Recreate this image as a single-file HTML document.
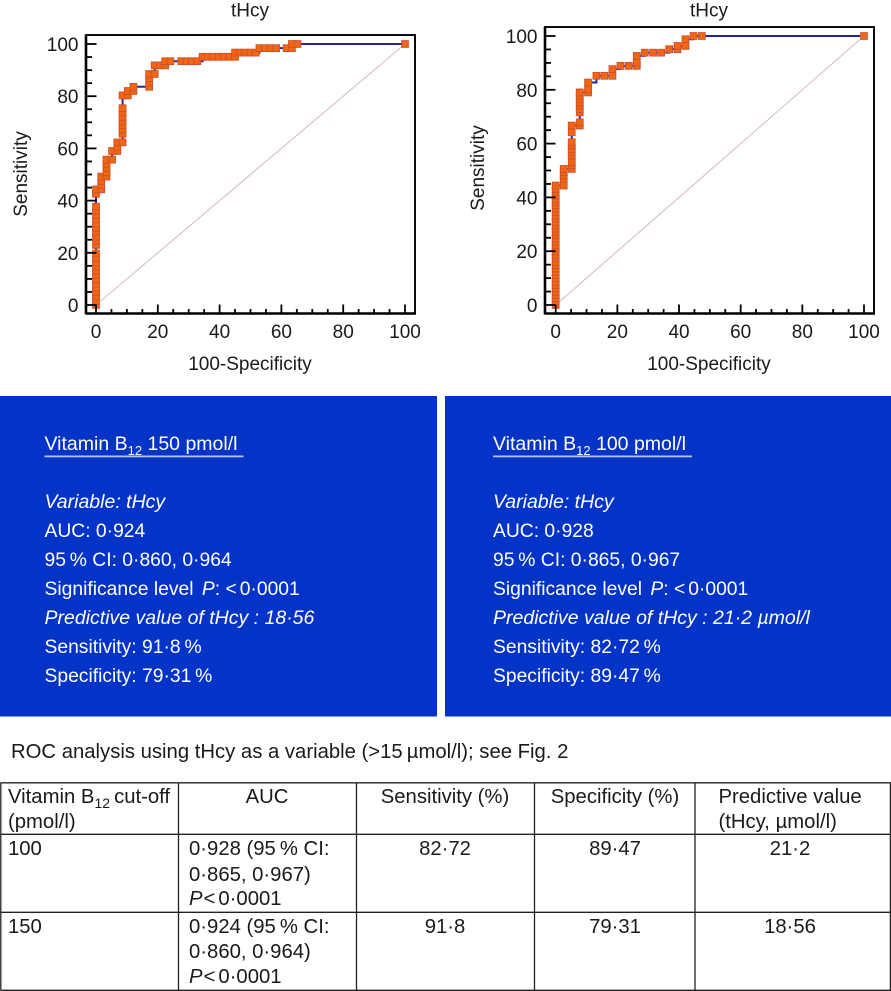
<!DOCTYPE html>
<html lang="en">
<head>
<meta charset="utf-8">
<title>ROC analysis of tHcy</title>
<style>
html,body{margin:0;padding:0;background:#fff;width:891px;height:991px;overflow:hidden}
svg{display:block;position:absolute;left:0;top:0}
text{font-family:"Liberation Sans",sans-serif;font-size:19px;fill:#1a1a1a}
.p text{fill:#fff;font-size:19.3px}
.p text.i{font-size:19.5px}
.p text.h{font-size:19.5px}
.i{font-style:italic}
.p .sub,.sub{font-size:13px}
.tb text,text.cap{font-size:20.3px}
.tb .sub{font-size:14px}
.tb line{stroke:#222;stroke-width:1.3}
</style>
</head>
<body>
<svg id="page" width="891" height="991" viewBox="0 0 891 991" xmlns="http://www.w3.org/2000/svg">
  <g id="chart-left"></g>
  <g id="chart-right"></g>

  <g class="p">
    <rect x="0" y="396" width="437" height="320.5" fill="#0433c8"/>
    <text class="h" x="44.5" y="450">Vitamin B<tspan class="sub" dy="5">12</tspan><tspan dy="-5"> 150 pmol/l</tspan></text>
    <rect x="44.5" y="455.5" width="199" height="1.8" fill="#b4c3f2"/>
    <text class="i" x="44.5" y="508">Variable: tHcy</text>
    <text x="44.5" y="537">AUC: 0·924</text>
    <text x="44.5" y="566">95&#8201;% CI: 0·860, 0·964</text>
    <text x="44.5" y="595">Significance level <tspan class="i" dx="3">P</tspan>: <tspan dx="0">&lt;</tspan><tspan dx="3">0·0001</tspan></text>
    <text class="i" x="44.5" y="624">Predictive value of tHcy : 18·56</text>
    <text x="44.5" y="653">Sensitivity: 91·8&#8201;%</text>
    <text x="44.5" y="682">Specificity: 79·31&#8201;%</text>
  </g>

  <g class="p">
    <rect x="445" y="396" width="446" height="320.5" fill="#0433c8"/>
    <text class="h" x="493" y="450">Vitamin B<tspan class="sub" dy="5">12</tspan><tspan dy="-5"> 100 pmol/l</tspan></text>
    <rect x="493" y="455.5" width="199" height="1.8" fill="#b4c3f2"/>
    <text class="i" x="493" y="508">Variable: tHcy</text>
    <text x="493" y="537">AUC: 0·928</text>
    <text x="493" y="566">95&#8201;% CI: 0·865, 0·967</text>
    <text x="493" y="595">Significance level <tspan class="i" dx="3">P</tspan>: <tspan dx="0">&lt;</tspan><tspan dx="3">0·0001</tspan></text>
    <text class="i" x="493" y="624">Predictive value of tHcy : 21·2 µmol/l</text>
    <text x="493" y="653">Sensitivity: 82·72&#8201;%</text>
    <text x="493" y="682">Specificity: 89·47&#8201;%</text>
  </g>

  <text class="cap" x="11" y="758">ROC analysis using tHcy as a variable (&gt;15&#8201;µmol/l); see Fig. 2</text>

  <g class="tb">
    <line x1="0.5" y1="782.8" x2="891" y2="782.8"/>
    <line x1="0.5" y1="834.3" x2="891" y2="834.3"/>
    <line x1="0.5" y1="912.3" x2="891" y2="912.3"/>
    <line x1="0.5" y1="990.3" x2="891" y2="990.3"/>
    <line x1="0.8" y1="782.8" x2="0.8" y2="990.3"/>
    <line x1="178.5" y1="782.8" x2="178.5" y2="990.3"/>
    <line x1="356.5" y1="782.8" x2="356.5" y2="990.3"/>
    <line x1="534.5" y1="782.8" x2="534.5" y2="990.3"/>
    <line x1="695" y1="782.8" x2="695" y2="990.3"/>
    <line x1="890.4" y1="782.8" x2="890.4" y2="990.3"/>

    <text x="8" y="803">Vitamin B<tspan class="sub" dy="5">12</tspan><tspan dy="-5">&#8201;cut-off</tspan></text>
    <text x="8" y="828">(pmol/l)</text>
    <text x="267" y="803" text-anchor="middle">AUC</text>
    <text x="445" y="803" text-anchor="middle">Sensitivity (%)</text>
    <text x="615" y="803" text-anchor="middle">Specificity (%)</text>
    <text x="718.5" y="803">Predictive value</text>
    <text x="718.5" y="828">(tHcy, µmol/l)</text>

    <text x="8" y="855">100</text>
    <text x="189" y="855">0·928 (95&#8201;% CI:</text>
    <text x="189" y="881">0·865, 0·967)</text>
    <text x="189" y="905"><tspan class="i">P</tspan><tspan dx="1">&lt;</tspan><tspan dx="3">0·0001</tspan></text>
    <text x="445" y="855" text-anchor="middle">82·72</text>
    <text x="615" y="855" text-anchor="middle">89·47</text>
    <text x="790" y="855" text-anchor="middle">21·2</text>

    <text x="8" y="933">150</text>
    <text x="189" y="933">0·924 (95&#8201;% CI:</text>
    <text x="189" y="958">0·860, 0·964)</text>
    <text x="189" y="983"><tspan class="i">P</tspan><tspan dx="1">&lt;</tspan><tspan dx="3">0·0001</tspan></text>
    <text x="445" y="933" text-anchor="middle">91·8</text>
    <text x="615" y="933" text-anchor="middle">79·31</text>
    <text x="790" y="933" text-anchor="middle">18·56</text>
  </g>
</svg>

<script>
var majorTicks = [0, 20, 40, 60, 80, 100];
var minorTicks = [5, 10, 15, 25, 30, 35, 45, 50, 55, 65, 70, 75, 85, 90, 95];
var referenceLine = [0, 100];

var leftFpr = [0,0,0,0,0,0,0,0,0,0,0,0,0,0,0,0,0,0,0,0,0,0,0,0,0,
  1.7,1.7,1.7,1.7,3.4,3.4,3.4,3.4,3.4,5.2,5.2,6.9,6.9,6.9,
  8.6,8.6,8.6,8.6,8.6,8.6,8.6,8.6,8.6,10.3,10.3,12.1,12.1,
  17.2,17.2,17.2,17.2,19,19,20.7,22.4,22.4,24.1,27.6,29.3,31,32.8,
  34.5,36.2,37.9,39.7,41.4,43.1,45,45,46.6,48.3,50,51.7,
  52.9,54.6,56.4,58.3,61.7,63.4,63.4,65.2,100];
var leftTpr = [0,1.6,3.3,4.9,6.6,8.2,9.8,11.5,13.1,14.8,16.4,18,19.7,23,24.6,26.2,27.9,29.5,31.1,32.8,34.4,36.1,37.7,42.6,44.3,
  44.3,45.9,47.5,49.2,49.2,50.8,52.5,54.1,55.7,55.7,59,59,60.7,62.3,
  62.3,65.6,67.2,68.9,70.5,72.1,73.8,75.4,80.3,80.3,82,82,83.6,
  83.6,85.2,86.9,88.5,88.5,91.8,91.8,91.8,93.4,93.4,93.4,93.4,93.4,93.4,
  95.1,95.1,95.1,95.1,95.1,95.1,95.1,96.7,96.7,96.7,96.7,96.7,
  98.4,98.4,98.4,98.4,98.4,98.4,100,100,100];

var rightFpr = [0,0,0,0,0,0,0,0,0,0,0,0,0,0,0,0,0,0,0,0,0,0,0,0,0,0,0,0,0,0,0,0,0,0,0,0,0,
  2.6,2.6,2.6,2.6,2.6,5.2,5.2,5.2,5.2,5.2,5.2,5.2,5.2,5.2,5.2,
  7.8,7.8,7.8,7.8,7.8,7.8,7.8,7.8,7.8,7.8,10.5,10.5,10.5,
  13.2,15.8,18.4,18.4,21,23.7,26.3,26.3,26.3,28.9,31.6,34.2,36.8,39.5,39.5,42.1,42.1,44.7,47.4,100];
var rightTpr = [0,1.2,2.5,3.7,4.9,6.2,7.4,8.6,9.9,11.1,12.3,13.6,14.8,16,17.3,18.5,19.8,21,22.2,23.5,24.7,25.9,27.2,28.4,29.6,30.9,32.1,33.3,34.6,35.8,37,38.3,39.5,40.7,42,43.2,44.4,
  44.4,46.9,48.1,49.4,50.6,50.6,51.9,53.1,55.6,56.8,58,59.3,60.5,64.2,66.7,
  66.7,67.9,71.6,72.8,74.1,75.3,76.5,77.8,79,79,79,80.2,82.7,
  85.2,85.2,85.2,87.7,88.9,88.9,88.9,90.1,92.6,93.8,93.8,93.8,95.1,95.1,96.3,96.3,98.8,100,100,100];

var SVG_NS = 'http://www.w3.org/2000/svg';

function add(parent, tag) {
  var el = document.createElementNS(SVG_NS, tag);
  parent.appendChild(el);
  return el;
}

function drawChart(rootId, fpr, tpr, box, yTitle) {
  var root = document.getElementById(rootId);
  function xScale(v) { return box.x0 + v * box.kx; }
  function yScale(v) { return box.y0 - v * box.ky; }

  var title = add(root, 'text');
  
  
  title.setAttribute('x', box.titleX);
  title.setAttribute('y', 16.5);
  title.setAttribute('text-anchor', 'middle');
  title.textContent = 'tHcy';

  var diag = add(root, 'line');
  
  
  diag.setAttribute('x1', xScale(referenceLine[0]));
  diag.setAttribute('y1', yScale(referenceLine[0]));
  diag.setAttribute('x2', xScale(referenceLine[1]));
  diag.setAttribute('y2', yScale(referenceLine[1]));
  diag.setAttribute('stroke', '#d8b9b9');
  diag.setAttribute('stroke-width', '1');

  var pts = [];
  for (var i = 0; i < fpr.length; i++) {
    if (i > 0) { pts.push(xScale(fpr[i]) + ',' + yScale(tpr[i - 1])); }
    pts.push(xScale(fpr[i]) + ',' + yScale(tpr[i]));
  }
  var curve = add(root, 'polyline');
  
  
  curve.setAttribute('points', pts.join(' '));
  curve.setAttribute('fill', 'none');
  curve.setAttribute('stroke', '#26269a');
  curve.setAttribute('stroke-width', '2');

  for (var j = 0; j < fpr.length; j++) {
    var m = add(root, 'rect');
    
    
    m.setAttribute('x', xScale(fpr[j]) - 3.4);
    m.setAttribute('y', yScale(tpr[j]) - 3.4);
    m.setAttribute('width', 6.8);
    m.setAttribute('height', 6.8);
    m.setAttribute('fill', '#f4650f');
    m.setAttribute('stroke', '#c9522f');
    m.setAttribute('stroke-width', '0.9');
  }

  var frame = add(root, 'rect');
  
  
  frame.setAttribute('x', box.left);
  frame.setAttribute('y', box.top);
  frame.setAttribute('width', box.right - box.left);
  frame.setAttribute('height', box.bottom - box.top);
  frame.setAttribute('fill', 'none');
  frame.setAttribute('stroke', '#000');
  frame.setAttribute('stroke-width', '1.9');

  function tick(name, x1, y1, x2, y2, w) {
    var t = add(root, 'line');
    
    
    t.setAttribute('x1', x1);
    t.setAttribute('y1', y1);
    t.setAttribute('x2', x2);
    t.setAttribute('y2', y2);
    t.setAttribute('stroke', '#000');
    t.setAttribute('stroke-width', w);
  }

  tick('y-axis-line', box.left, box.top, box.left, box.bottom + 1, 2.6);
  tick('x-axis-line', box.left, box.bottom, box.right + 1, box.bottom, 2.4);

  majorTicks.forEach(function (v) {
    tick('x-major-tick', xScale(v), box.bottom, xScale(v), box.bottom - 9, 1.8);
    tick('y-major-tick', box.left, yScale(v), box.left + 10.5, yScale(v), 1.8);

    var xl = add(root, 'text');
    
    
    xl.setAttribute('x', xScale(v));
    xl.setAttribute('y', 338);
    xl.setAttribute('text-anchor', 'middle');
    xl.textContent = String(v);

    var yl = add(root, 'text');
    
    
    yl.setAttribute('x', box.left - 7.5);
    yl.setAttribute('y', yScale(v) + 7);
    yl.setAttribute('text-anchor', 'end');
    yl.textContent = String(v);
  });

  minorTicks.forEach(function (v) {
    tick('x-minor-tick', xScale(v), box.bottom, xScale(v), box.bottom - 4.5, 1.8);
    tick('y-minor-tick', box.left, yScale(v), box.left + 6, yScale(v), 1.8);
  });

  var xt = add(root, 'text');
  
  
  xt.setAttribute('x', box.titleX);
  xt.setAttribute('y', 370);
  xt.setAttribute('text-anchor', 'middle');
  xt.textContent = '100-Specificity';

  var yt = add(root, 'text');
  
  
  yt.setAttribute('text-anchor', 'middle');
  yt.setAttribute('transform', 'translate(' + yTitle.x + ',' + yTitle.y + ') rotate(-90)');
  yt.textContent = 'Sensitivity';
}

drawChart('chart-left', leftFpr, leftTpr,
  {x0: 96, kx: 3.09, y0: 305, ky: 2.61, left: 86, right: 415, top: 35, bottom: 313.5, titleX: 250},
  {x: 27, y: 174});
drawChart('chart-right', rightFpr, rightTpr,
  {x0: 555.7, kx: 3.083, y0: 305, ky: 2.69, left: 545, right: 874, top: 27, bottom: 313.5, titleX: 709},
  {x: 484, y: 168});
</script>
</body>
</html>
